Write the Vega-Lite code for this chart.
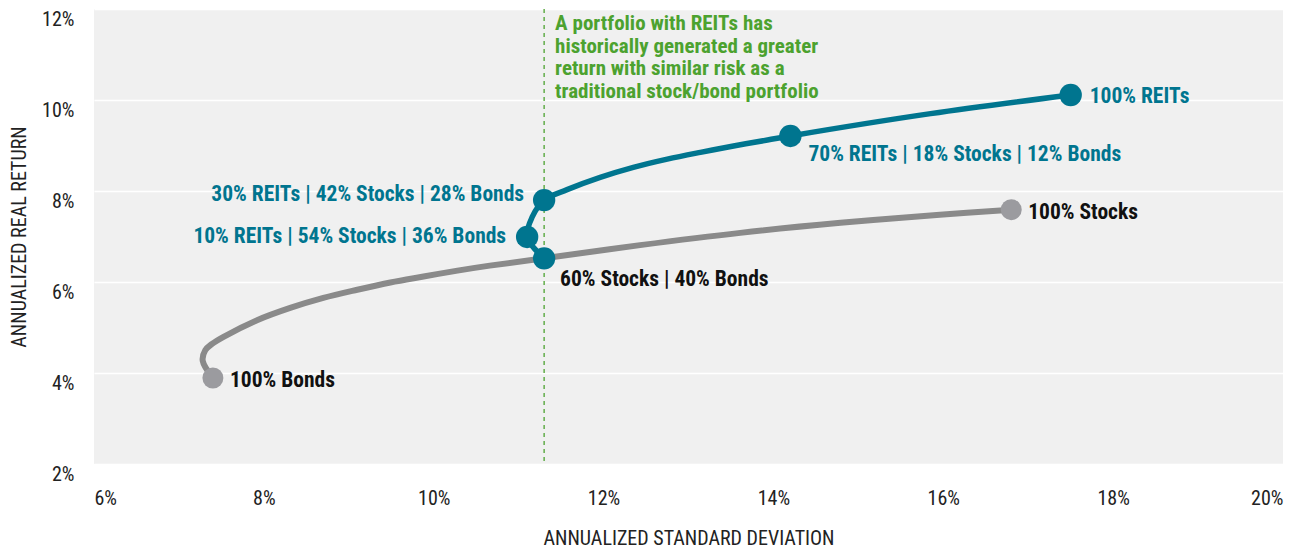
{
  "$schema": "https://vega.github.io/schema/vega-lite/v6.json",
  "width": 1189,
  "height": 455,
  "autosize": {"type": "none"},
  "padding": {"left": 94, "top": 9, "right": 24, "bottom": 84},
  "background": "white",
  "view": {"fill": "#f0f0f0", "stroke": null},
  "config": {
    "font": "Liberation Sans Narrow, Roboto Condensed, DejaVu Sans Condensed, Arial Narrow, sans-serif"
  },
  "datasets": {
    "curve": [
      {"series": "base", "ord": 1, "sd": 7.40, "ret": 3.89},
      {"series": "base", "ord": 2, "sd": 7.28, "ret": 4.27},
      {"series": "base", "ord": 3, "sd": 7.31, "ret": 4.50},
      {"series": "base", "ord": 4, "sd": 7.39, "ret": 4.64},
      {"series": "base", "ord": 5, "sd": 7.52, "ret": 4.79},
      {"series": "base", "ord": 6, "sd": 7.92, "ret": 5.16},
      {"series": "base", "ord": 7, "sd": 8.31, "ret": 5.43},
      {"series": "base", "ord": 8, "sd": 8.70, "ret": 5.65},
      {"series": "base", "ord": 9, "sd": 9.10, "ret": 5.83},
      {"series": "base", "ord": 10, "sd": 9.49, "ret": 5.99},
      {"series": "base", "ord": 11, "sd": 9.88, "ret": 6.12},
      {"series": "base", "ord": 12, "sd": 10.28, "ret": 6.25},
      {"series": "base", "ord": 13, "sd": 10.66, "ret": 6.36},
      {"series": "base", "ord": 14, "sd": 11.30, "ret": 6.52},
      {"series": "base", "ord": 15, "sd": 12.43, "ret": 6.81},
      {"series": "base", "ord": 16, "sd": 13.61, "ret": 7.08},
      {"series": "base", "ord": 17, "sd": 14.79, "ret": 7.30},
      {"series": "base", "ord": 18, "sd": 15.96, "ret": 7.48},
      {"series": "base", "ord": 19, "sd": 16.80, "ret": 7.59},
      {"series": "reit", "ord": 1, "sd": 11.30, "ret": 6.52},
      {"series": "reit", "ord": 2, "sd": 11.10, "ret": 6.99},
      {"series": "reit", "ord": 3, "sd": 11.16, "ret": 7.43},
      {"series": "reit", "ord": 4, "sd": 11.30, "ret": 7.80},
      {"series": "reit", "ord": 5, "sd": 11.57, "ret": 8.03},
      {"series": "reit", "ord": 6, "sd": 11.96, "ret": 8.30},
      {"series": "reit", "ord": 7, "sd": 12.35, "ret": 8.52},
      {"series": "reit", "ord": 8, "sd": 12.75, "ret": 8.70},
      {"series": "reit", "ord": 9, "sd": 13.14, "ret": 8.85},
      {"series": "reit", "ord": 10, "sd": 13.53, "ret": 8.99},
      {"series": "reit", "ord": 11, "sd": 13.93, "ret": 9.12},
      {"series": "reit", "ord": 12, "sd": 14.20, "ret": 9.21},
      {"series": "reit", "ord": 13, "sd": 15.85, "ret": 9.70},
      {"series": "reit", "ord": 14, "sd": 17.50, "ret": 10.11}
    ],
    "points": [
      {"name": "100% REITs", "group": "reit", "sd": 17.50, "ret": 10.11},
      {"name": "70% REITs | 18% Stocks | 12% Bonds", "group": "reit", "sd": 14.20, "ret": 9.21},
      {"name": "30% REITs | 42% Stocks | 28% Bonds", "group": "reit", "sd": 11.30, "ret": 7.80},
      {"name": "10% REITs | 54% Stocks | 36% Bonds", "group": "reit", "sd": 11.10, "ret": 6.99},
      {"name": "60% Stocks | 40% Bonds", "group": "reit", "sd": 11.30, "ret": 6.52},
      {"name": "100% Stocks", "group": "base", "sd": 16.80, "ret": 7.59},
      {"name": "100% Bonds", "group": "base", "sd": 7.40, "ret": 3.89}
    ],
    "note": [
      {"sd": 11.3, "ret": 12, "text": "A portfolio with REITs has\nhistorically generated a greater\nreturn with similar risk as a\ntraditional stock/bond portfolio"}
    ]
  },
  "encoding": {
    "x": {
      "field": "sd", "type": "quantitative",
      "scale": {"domain": [6, 20], "nice": false, "zero": false},
      "axis": {
        "values": [6, 8, 10, 12, 14, 16, 18, 20],
        "labelExpr": "datum.value + '%'",
        "title": "ANNUALIZED STANDARD DEVIATION",
        "grid": false, "domain": false, "ticks": false,
        "labelPadding": 24, "labelFontSize": 20, "labelColor": "#222222",
        "labelFontWeight": "normal",
        "titleFontSize": 20, "titleFontWeight": "normal", "titleColor": "#222222",
        "titlePadding": 20
      }
    },
    "y": {
      "field": "ret", "type": "quantitative",
      "scale": {"domain": [2, 12], "nice": false, "zero": false},
      "axis": {
        "values": [2, 4, 6, 8, 10, 12],
        "labelExpr": "datum.value + '%'",
        "title": "ANNUALIZED REAL RETURN",
        "grid": true, "gridColor": "#ffffff", "gridWidth": 1.5,
        "domain": false, "ticks": false,
        "labelPadding": 20, "labelOffset": 10, "labelFontSize": 20, "labelColor": "#222222",
        "titleFontSize": 20, "titleFontWeight": "normal", "titleColor": "#222222",
        "titlePadding": 12
      }
    }
  },
  "layer": [
    {
      "data": {"name": "note"},
      "mark": {"type": "rule", "color": "#4ca22f", "strokeWidth": 1.3, "strokeDash": [4, 4]},
      "encoding": {"y": {"datum": 12}, "y2": {"datum": 2}}
    },
    {
      "data": {"name": "curve"},
      "transform": [{"filter": "datum.series == 'base'"}],
      "mark": {"type": "line", "color": "#8a8a8a", "strokeWidth": 6, "interpolate": "catmull-rom"},
      "encoding": {"order": {"field": "ord", "type": "quantitative"}}
    },
    {
      "data": {"name": "curve"},
      "transform": [{"filter": "datum.series == 'reit'"}],
      "mark": {"type": "line", "color": "#00758f", "strokeWidth": 5.5, "interpolate": "catmull-rom"},
      "encoding": {"order": {"field": "ord", "type": "quantitative"}}
    },
    {
      "data": {"name": "points"},
      "transform": [{"filter": "datum.group == 'base'"}],
      "mark": {"type": "circle", "color": "#9b9b9f", "opacity": 1, "size": 440},
      "encoding": {}
    },
    {
      "data": {"name": "points"},
      "transform": [{"filter": "datum.group == 'reit'"}],
      "mark": {"type": "circle", "color": "#00758f", "opacity": 1, "size": 500},
      "encoding": {}
    },
    {
      "data": {"name": "points"},
      "transform": [{"filter": "datum.name == '100% REITs'"}],
      "mark": {"type": "text", "align": "left", "baseline": "middle", "dx": 19, "dy": 2, "fontSize": 21.5, "fontWeight": "bold", "color": "#00758f"},
      "encoding": {"text": {"field": "name"}}
    },
    {
      "data": {"name": "points"},
      "transform": [{"filter": "datum.name == '70% REITs | 18% Stocks | 12% Bonds'"}],
      "mark": {"type": "text", "align": "left", "baseline": "middle", "dx": 18, "dy": 19, "fontSize": 21.5, "fontWeight": "bold", "color": "#00758f"},
      "encoding": {"text": {"field": "name"}}
    },
    {
      "data": {"name": "points"},
      "transform": [{"filter": "datum.name == '30% REITs | 42% Stocks | 28% Bonds'"}],
      "mark": {"type": "text", "align": "right", "baseline": "middle", "dx": -20, "dy": -5, "fontSize": 21.5, "fontWeight": "bold", "color": "#00758f"},
      "encoding": {"text": {"field": "name"}}
    },
    {
      "data": {"name": "points"},
      "transform": [{"filter": "datum.name == '10% REITs | 54% Stocks | 36% Bonds'"}],
      "mark": {"type": "text", "align": "right", "baseline": "middle", "dx": -21, "dy": 0, "fontSize": 21.5, "fontWeight": "bold", "color": "#00758f"},
      "encoding": {"text": {"field": "name"}}
    },
    {
      "data": {"name": "points"},
      "transform": [{"filter": "datum.name == '60% Stocks | 40% Bonds'"}],
      "mark": {"type": "text", "align": "left", "baseline": "middle", "dx": 16, "dy": 22, "fontSize": 21.5, "fontWeight": "bold", "color": "#111111"},
      "encoding": {"text": {"field": "name"}}
    },
    {
      "data": {"name": "points"},
      "transform": [{"filter": "datum.group == 'base'"}],
      "mark": {"type": "text", "align": "left", "baseline": "middle", "dx": 17, "dy": 3, "fontSize": 21.5, "fontWeight": "bold", "color": "#111111"},
      "encoding": {"text": {"field": "name"}}
    },
    {
      "data": {"name": "note"},
      "mark": {"type": "text", "align": "left", "baseline": "top", "dx": 11, "dy": 4, "fontSize": 21, "lineHeight": 22.5, "lineBreak": "\n", "fontWeight": "bold", "color": "#4ca22f"},
      "encoding": {"text": {"field": "text"}}
    }
  ]
}
